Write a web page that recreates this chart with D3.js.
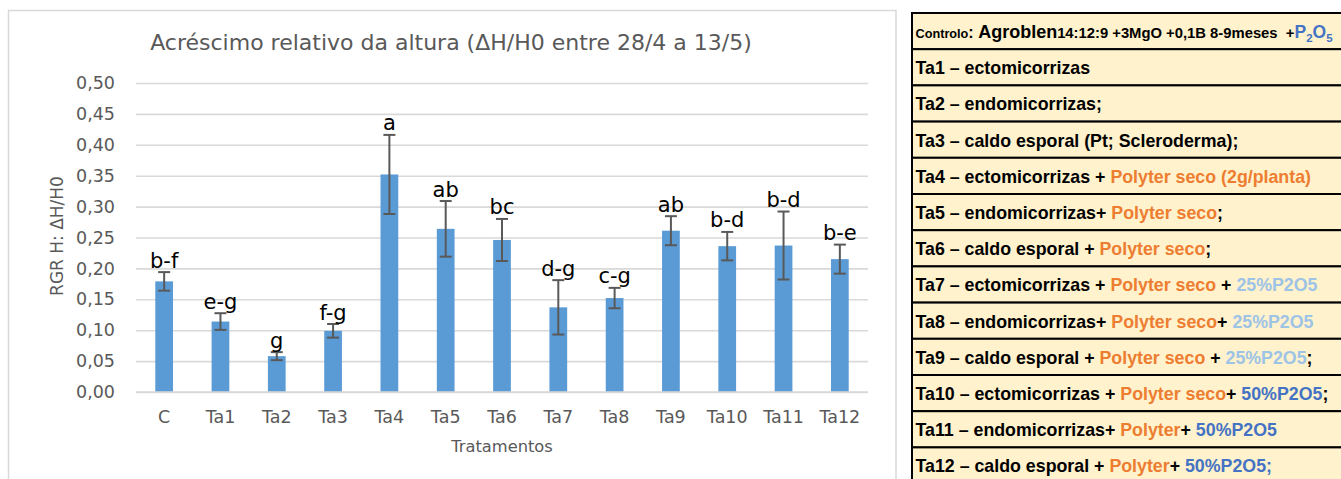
<!DOCTYPE html>
<html>
<head>
<meta charset="utf-8">
<script src="https://cdn.jsdelivr.net/npm/d3@7"></script>
<style>
  html, body { margin: 0; padding: 0; background: #ffffff; overflow: hidden; }
  svg { display: block; }
</style>
</head>
<body>
<svg id="chart" width="1341" height="479"></svg>
<script>
// Treatments and relative height growth (mean ± error)
const categories = ["C", "Ta1", "Ta2", "Ta3", "Ta4", "Ta5", "Ta6", "Ta7", "Ta8", "Ta9", "Ta10", "Ta11", "Ta12"];
const means = [0.179, 0.114, 0.058, 0.099, 0.352, 0.264, 0.246, 0.137, 0.152, 0.261, 0.236, 0.237, 0.215];
const errors = [0.015, 0.0135, 0.0065, 0.011, 0.064, 0.045, 0.034, 0.044, 0.0165, 0.0235, 0.023, 0.055, 0.0235];
const letters = ["b-f", "e-g", "g", "f-g", "a", "ab", "bc", "d-g", "c-g", "ab", "b-d", "b-d", "b-e"];
const yTicks = [0, 0.05, 0.10, 0.15, 0.20, 0.25, 0.30, 0.35, 0.40, 0.45, 0.50];

const titleText = "Acréscimo relativo da altura (ΔH/H0 entre 28/4 a 13/5)";
const yAxisTitle = "RGR H: ΔH/H0";
const xAxisTitle = "Tratamentos";

// Legend table of treatments: each row is a list of [text, colourKey]
const legendRows = [
  null, // control row is built separately (mixed font sizes)
  [["Ta1 – ectomicorrizas", "k"]],
  [["Ta2 – endomicorrizas;", "k"]],
  [["Ta3 – caldo esporal (Pt; Scleroderma);", "k"]],
  [["Ta4 – ectomicorrizas + ", "k"], ["Polyter seco (2g/planta)", "o"]],
  [["Ta5 – endomicorrizas+ ", "k"], ["Polyter seco", "o"], [";", "k"]],
  [["Ta6 – caldo esporal + ", "k"], ["Polyter seco", "o"], [";", "k"]],
  [["Ta7 – ectomicorrizas + ", "k"], ["Polyter seco", "o"], [" + ", "k"], ["25%P2O5", "lb"]],
  [["Ta8 – endomicorrizas+ ", "k"], ["Polyter seco", "o"], ["+ ", "k"], ["25%P2O5", "lb"]],
  [["Ta9 – caldo esporal + ", "k"], ["Polyter seco", "o"], [" + ", "k"], ["25%P2O5", "lb"], [";", "k"]],
  [["Ta10 – ectomicorrizas + ", "k"], ["Polyter seco", "o"], ["+ ", "k"], ["50%P2O5", "b"], [";", "k"]],
  [["Ta11 – endomicorrizas+ ", "k"], ["Polyter", "o"], ["+ ", "k"], ["50%P2O5", "b"]],
  [["Ta12 – caldo esporal + ", "k"], ["Polyter", "o"], ["+ ", "k"], ["50%P2O5;", "b"]]
];
const legendColours = { k: "#000000", o: "#ed7d31", lb: "#9dc3e6", b: "#4472c4" };

const svg = d3.select("#chart");
const chartFont = "'DejaVu Sans', sans-serif";
const axisGrey = "#595959";

// Chart frame
svg.append("rect")
  .attr("x", 8.5).attr("y", 10.5)
  .attr("width", 887.5).attr("height", 520)
  .attr("fill", "#ffffff")
  .attr("stroke", "#d9d9d9").attr("stroke-width", 1.5);

const plot = { left: 136, right: 868, top: 83, bottom: 392 };

const x = d3.scaleBand().domain(categories).range([plot.left, plot.right]).padding(0);
const y = d3.scaleLinear().domain([0, 0.5]).range([plot.bottom, plot.top]);
const barW = x.bandwidth() * 0.315;

// Title
svg.append("text")
  .attr("x", 451).attr("y", 50)
  .attr("text-anchor", "middle")
  .attr("font-family", chartFont).attr("font-size", 22)
  .attr("fill", axisGrey)
  .text(titleText);

// Gridlines and y tick labels
const yAxis = d3.axisLeft(y).tickValues(yTicks)
  .tickSize(-(plot.right - plot.left))
  .tickPadding(21)
  .tickFormat(d => d3.format(".2f")(d).replace(".", ","));

const gy = svg.append("g")
  .attr("transform", `translate(${plot.left},0)`)
  .call(yAxis);
gy.select(".domain").remove();
gy.selectAll(".tick line").attr("stroke", "#d9d9d9").attr("stroke-width", 1.6);
gy.selectAll(".tick text")
  .attr("font-family", chartFont).attr("font-size", 17.5)
  .attr("fill", axisGrey);

// Bars
svg.append("g").selectAll("rect")
  .data(categories)
  .join("rect")
  .attr("x", (d) => x(d) + x.bandwidth() / 2 - barW / 2)
  .attr("y", (d, i) => y(means[i]))
  .attr("width", barW)
  .attr("height", (d, i) => y(0) - y(means[i]))
  .attr("fill", "#5b9bd5");

// x baseline drawn over the bars
svg.append("line")
  .attr("x1", plot.left).attr("x2", plot.right)
  .attr("y1", y(0)).attr("y2", y(0))
  .attr("stroke", "#d9d9d9").attr("stroke-width", 1.6);

// Error bars
const capHalf = 6;
const eg = svg.append("g").attr("stroke", axisGrey).attr("stroke-width", 2);
categories.forEach((c, i) => {
  const cx = x(c) + x.bandwidth() / 2;
  const hi = y(means[i] + errors[i]);
  const lo = y(means[i] - errors[i]);
  eg.append("line").attr("x1", cx).attr("x2", cx).attr("y1", hi).attr("y2", lo);
  eg.append("line").attr("x1", cx - capHalf).attr("x2", cx + capHalf).attr("y1", hi).attr("y2", hi);
  eg.append("line").attr("x1", cx - capHalf).attr("x2", cx + capHalf).attr("y1", lo).attr("y2", lo);
});

// Significance letters above the error bars
svg.append("g").selectAll("text")
  .data(categories)
  .join("text")
  .attr("x", d => x(d) + x.bandwidth() / 2)
  .attr("y", (d, i) => y(means[i] + errors[i]) - 4.5)
  .attr("text-anchor", "middle")
  .attr("font-family", chartFont).attr("font-size", 21)
  .attr("fill", "#000000")
  .text((d, i) => letters[i]);

// x axis labels
const xAxis = d3.axisBottom(x).tickSize(0).tickPadding(19);
const gx = svg.append("g")
  .attr("transform", `translate(0,${plot.bottom})`)
  .call(xAxis);
gx.select(".domain").remove();
gx.selectAll(".tick text")
  .attr("font-family", chartFont).attr("font-size", 17.5)
  .attr("fill", axisGrey);

// Axis titles
svg.append("text")
  .attr("x", (plot.left + plot.right) / 2).attr("y", 452)
  .attr("text-anchor", "middle")
  .attr("font-family", chartFont).attr("font-size", 16.3)
  .attr("fill", axisGrey)
  .text(xAxisTitle);

svg.append("text")
  .attr("transform", "translate(63,236) rotate(-90)")
  .attr("text-anchor", "middle")
  .attr("font-family", chartFont).attr("font-size", 17)
  .attr("fill", axisGrey)
  .text(yAxisTitle);

// Treatment legend table
const tableFont = "'Liberation Sans', Arial, sans-serif";
const tbl = { left: 912, top: 13, rowH: 36.2, width: 460 };
const tg = svg.append("g");

tg.selectAll("rect")
  .data(legendRows)
  .join("rect")
  .attr("x", tbl.left).attr("y", (d, i) => tbl.top + i * tbl.rowH)
  .attr("width", tbl.width).attr("height", tbl.rowH)
  .attr("fill", "#fff2cc")
  .attr("stroke", "#000000").attr("stroke-width", 2);

legendRows.forEach((row, i) => {
  if (!row) return;
  const t = tg.append("text")
    .attr("x", tbl.left + 3.5).attr("y", tbl.top + i * tbl.rowH + 25)
    .attr("font-family", tableFont).attr("font-weight", "bold")
    .attr("font-size", 17.8)
    .style("white-space", "pre");
  row.forEach(([s, c]) => t.append("tspan").attr("fill", legendColours[c]).text(s));
});

// Control row: mixed sizes with P2O5 subscripts
const ctrl = tg.append("text")
  .attr("x", tbl.left + 3.5).attr("y", tbl.top + 25)
  .attr("font-family", tableFont).attr("font-weight", "bold")
  .attr("fill", "#000000")
  .style("white-space", "pre");
ctrl.append("tspan").attr("font-size", 12.7).text("Controlo");
ctrl.append("tspan").attr("font-size", 16).text(": ");
ctrl.append("tspan").attr("font-size", 18).text("Agroblen");
ctrl.append("tspan").attr("font-size", 14.8).text("14:12:9 +3MgO +0,1B 8-9meses  +");
ctrl.append("tspan").attr("font-size", 17.5).attr("fill", legendColours.b).text("P");
ctrl.append("tspan").attr("font-size", 11.5).attr("dy", 4).attr("fill", legendColours.b).text("2");
ctrl.append("tspan").attr("font-size", 17.5).attr("dy", -4).attr("fill", legendColours.b).text("O");
ctrl.append("tspan").attr("font-size", 11.5).attr("dy", 4).attr("fill", legendColours.b).text("5");
</script>
</body>
</html>
